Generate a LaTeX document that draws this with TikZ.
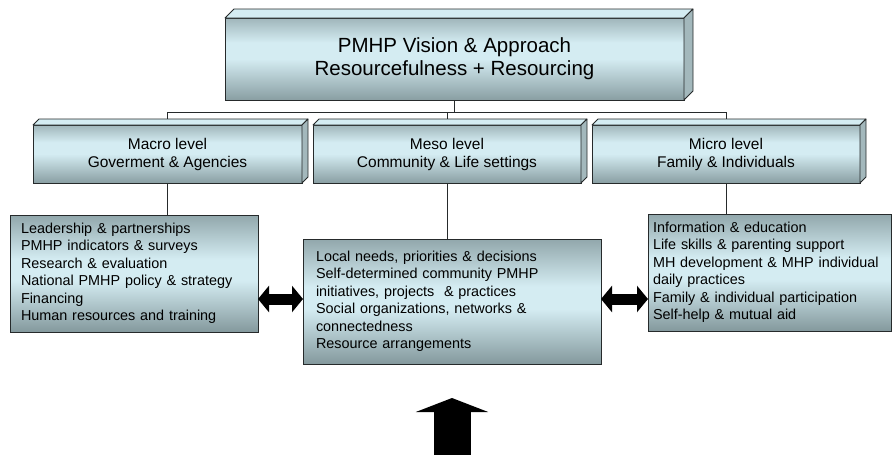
\documentclass[tikz,border=0pt]{standalone}
\usepackage{fontspec}
\setmainfont{Liberation Sans}
\usetikzlibrary{positioning, arrows.meta}

\definecolor{faceLight}{RGB}{212,236,242}
\definecolor{faceSide}{RGB}{163,184,188}
\definecolor{shadeTop}{RGB}{100,120,123}
\definecolor{shadeMid}{RGB}{128,149,153}
\definecolor{shadeLow}{RGB}{78,93,95}
\definecolor{listTop}{RGB}{86,100,102}
\definecolor{listLow}{RGB}{68,78,80}
\definecolor{edgeGray}{RGB}{38,42,43}

% shadings go bottom to top
\pgfdeclareverticalshading{levelshade}{100bp}{color(0bp)=(shadeLow); color(22bp)=(shadeMid); color(50bp)=(faceLight); color(60bp)=(faceLight); color(84bp)=(shadeMid); color(100bp)=(shadeTop)}
\pgfdeclareverticalshading{listshade}{100bp}{color(0bp)=(listLow); color(24bp)=(shadeMid); color(47bp)=(faceLight); color(56bp)=(faceLight); color(80bp)=(shadeMid); color(100bp)=(listTop)}

% list text, no hyphenation
\newcommand{\listfont}{\fontsize{14.4pt}{17.5pt}\selectfont\hyphenpenalty=10000\relax}

\tikzset{
    levelbox/.style={draw=edgeGray, line width=0.8pt, shade, shading=levelshade, align=center, inner sep=0pt, outer sep=0pt},
    listbox/.style={draw=edgeGray, line width=0.8pt, shade, shading=listshade, align=left, inner ysep=0pt, outer sep=0pt,
        font=\listfont},
    wire/.style={draw=edgeGray, line width=0.8pt},
    twoway/.style={line width=11pt, {Triangle[length=11pt,width=26pt]}-{Triangle[length=11pt,width=26pt]}},
    pushup/.style={line width=37pt, -{Triangle[length=14pt,width=72pt]}, shorten >=34pt}
}

% top face and right face of a raised box
\newcommand{\bevelbox}[2]{%
    \filldraw[draw=edgeGray, fill=faceLight, line width=0.8pt, line join=round] (#1.north west) -- ([shift={(#2pt,#2pt)}]#1.north west) -- ([shift={(#2pt,#2pt)}]#1.north east) -- (#1.north east) -- cycle;
    \filldraw[draw=edgeGray, fill=faceSide, line width=0.8pt, line join=round] (#1.north east) -- ([shift={(#2pt,#2pt)}]#1.north east) -- ([shift={(#2pt,#2pt)}]#1.south east) -- (#1.south east) -- cycle;
}

\begin{document}
\begin{tikzpicture}[x=1pt, y=-1pt]
        \useasboundingbox (0,0) rectangle (892,455);

        % Vision
        \node[levelbox, minimum width=459pt, minimum height=82pt, font=\fontsize{20.5pt}{23pt}\selectfont] (vision) at (454.5,59) {PMHP Vision \& Approach\\Resourcefulness + Resourcing};

        % Levels
        \node[levelbox, minimum width=269pt, minimum height=58pt, font=\fontsize{15.5pt}{18pt}\selectfont] (macro) at (167.5,154) {Macro level\\Goverment \& Agencies};
        \node[levelbox, minimum width=268pt, minimum height=58pt, font=\fontsize{15.5pt}{18pt}\selectfont] (meso) at (447,154) {Meso level\\Community \& Life settings};
        \node[levelbox, minimum width=268pt, minimum height=58pt, font=\fontsize{15.5pt}{18pt}\selectfont] (micro) at (726,154) {Micro level\\Family \& Individuals};

        % Lists under each level
        \node[listbox, text width=226pt, inner xsep=11pt, minimum height=117pt] (macroList) at (134,273.5) {Leadership \& partnerships\\PMHP indicators \& surveys\\Research \& evaluation\\National PMHP policy \& strategy\\Financing\\Human resources and training};
        \node[listbox, text width=272pt, inner xsep=13pt, minimum height=125pt] (mesoList) at (452,301.5) {Local needs, priorities \& decisions\\Self-determined community PMHP\\initiatives, projects\ \ \& practices\\Social organizations, networks \&\\connectedness\\Resource arrangements};
        \node[listbox, text width=233pt, inner xsep=5pt, minimum height=117pt] (microList) at (769.5,272.5) {Information \& education\\Life skills \& parenting support\\MH development \& MHP individual\\daily practices\\Family \& individual participation\\Self-help \& mutual aid};

        % Tree lines
        \coordinate (bus) at (0,112);
        \draw[wire] (vision.south) -- (vision.south |- bus);
        \draw[wire] (macro.north) -- (macro.north |- bus) -| (micro.north);
        \draw[wire] (meso.north) -- (meso.north |- bus);
        \draw[wire] (macro.south) -- (macro.south |- macroList.north);
        \draw[wire] (meso.south) -- (meso.south |- mesoList.north);
        \draw[wire] (micro.south) -- (micro.south |- microList.north);

        % Raised edges
        \bevelbox{vision}{9}
        \bevelbox{macro}{6}
        \bevelbox{meso}{6}
        \bevelbox{micro}{6}

        % Arrows
        \coordinate (arrowRow) at (0,299);
        \draw[twoway] (macroList.east |- arrowRow) -- (mesoList.west |- arrowRow);
        \draw[twoway] (mesoList.east |- arrowRow) -- (microList.west |- arrowRow);
        \coordinate (ground) at (452,460);
        \draw[pushup] (ground) -- (mesoList.south);
    \end{tikzpicture}
\end{document}
